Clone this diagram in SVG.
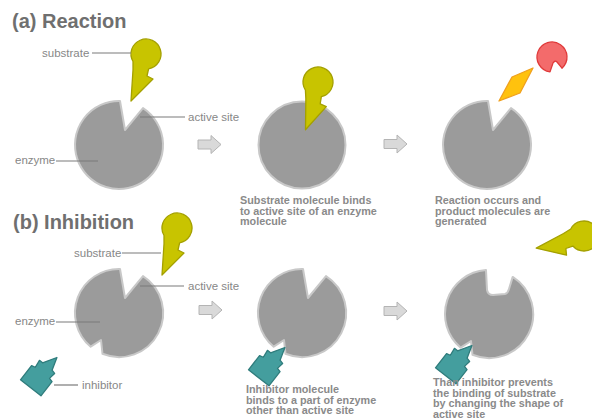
<svg xmlns="http://www.w3.org/2000/svg" xmlns:xlink="http://www.w3.org/1999/xlink" width="592" height="419" viewBox="0 0 592 419">
  <style>
    .title { font-family: "Liberation Sans", Arial, sans-serif; font-weight: bold; font-size: 20px; fill: #6f6f6f; }
    .label { font-family: "Liberation Sans", Arial, sans-serif; font-size: 11.5px; fill: #878787; }
    .caption { font-family: "Liberation Sans", Arial, sans-serif; font-weight: bold; font-size: 10.8px; fill: #8a8a8a; }
    .enzyme { fill: #9b9b9b; stroke: #c8c8c8; stroke-width: 2; stroke-linejoin: round; }
    .substrate { fill: #c8c400; stroke: #a4a000; stroke-width: 1.3; stroke-linejoin: round; }
    .inhibitor { fill: #449e9e; stroke: #2f7c7c; stroke-width: 1.3; stroke-linejoin: round; }
    .leader { stroke: #7a7a7a; stroke-width: 1.2; fill: none; }
    .step { fill: #d9d9d9; stroke: #b4b4b4; stroke-width: 1; }
  </style>
  <defs>
    <!-- enzyme with V-shaped active site -->
    <path id="enzV" d="M6,-15 L1,-44 A44,44 0 1 0 24,-36.9 Z"/>
    <!-- enzyme with active site plus allosteric notch -->
    <path id="enzVA" d="M6,-15 L1,-44 A44,44 0 0 0 -28.3,33.7 L-18,27 L-16.5,40.8 A44,44 0 0 0 24,-36.9 Z"/>
    <!-- enzyme whose active site has changed shape -->
    <path id="enzU" d="M-3,-43.9 L-2,-24 Q-1,-19 4,-19 L16,-20 Q19,-21 20,-25 L23.7,-37.1 A44,44 0 0 1 -16.5,40.8 L-18,27 L-28.3,33.7 A44,44 0 0 1 -3,-43.9 Z"/>
    <!-- substrate: round head with a stepped stem -->
    <path id="sub" d="M-13,7.5 A15,15 0 1 1 2.6,14.8 L1,22 L7,25 L-15,47 L-13,16 Z"/>
    <!-- inhibitor: square body with stepped point -->
    <path id="inh" d="M-13,18 L13,18 L13,0 L9,-1 L10,-8 L6,-9 L2,-22 L-6,-9 L-10,-9 L-9,-1 L-13,0 Z"/>
    <!-- step arrow -->
    <path id="stepArrow" d="M0,-4.5 L13,-4.5 L13,-9 L23,0 L13,9 L13,4.5 L0,4.5 Z"/>
  </defs>

  <rect width="592" height="419" fill="#ffffff"/>

  <text class="title" x="12" y="28">(a) Reaction</text>
  <text class="title" x="13" y="229">(b) Inhibition</text>

  <!-- (a) reaction -->
  <g id="enzyme-a1"><use xlink:href="#enzV" class="enzyme" transform="translate(119,145)"/></g>
  <g id="substrate-a1"><use xlink:href="#sub" class="substrate" transform="translate(146,54)"/></g>

  <g id="enzyme-a2"><circle class="enzyme" cx="302" cy="145" r="43.5"/></g>
  <g id="substrate-a2"><use xlink:href="#sub" class="substrate" transform="translate(318,82) rotate(-3)"/></g>

  <g id="enzyme-a3"><use xlink:href="#enzV" class="enzyme" transform="translate(487,145)"/></g>
  <g id="product-diamond"><path d="M499,101 L512,77 L533,68 L520,93 Z" fill="#ffc20e" stroke="#f0a01e" stroke-width="1.3" stroke-linejoin="round"/></g>
  <g id="product-red"><path d="M550,71.9 A15,15 0 1 1 562,68.2 L557,62 Q555,60 553,63 Z" fill="#f36b6b" stroke="#e03a3a" stroke-width="1.3" stroke-linejoin="round"/></g>

  <!-- (b) inhibition -->
  <g id="enzyme-b1"><use xlink:href="#enzVA" class="enzyme" transform="translate(119,313)"/></g>
  <g id="substrate-b1"><use xlink:href="#sub" class="substrate" transform="translate(177,228)"/></g>
  <g id="inhibitor-b1"><use xlink:href="#inh" class="inhibitor" transform="translate(41.8,373.6) rotate(38)"/></g>

  <g id="enzyme-b2"><use xlink:href="#enzVA" class="enzyme" transform="translate(302,313)"/></g>
  <g id="inhibitor-b2"><use xlink:href="#inh" class="inhibitor" transform="translate(269.8,363.6) rotate(38)"/></g>

  <g id="enzyme-b3"><use xlink:href="#enzU" class="enzyme" transform="translate(489,314)"/></g>
  <g id="inhibitor-b3"><use xlink:href="#inh" class="inhibitor" transform="translate(456.8,361.6) rotate(38)"/></g>
  <g id="substrate-b3"><use xlink:href="#sub" class="substrate" transform="translate(584,236) rotate(58)"/></g>

  <!-- leader lines and step arrows -->
  <g id="connectors">
    <line class="leader" x1="92" y1="53" x2="131" y2="53"/>
    <line class="leader" x1="140" y1="117" x2="185" y2="117"/>
    <line class="leader" x1="56" y1="161" x2="98" y2="161"/>
    <line class="leader" x1="122" y1="253" x2="161" y2="253"/>
    <line class="leader" x1="140" y1="286" x2="184" y2="286"/>
    <line class="leader" x1="56" y1="322" x2="100" y2="322"/>
    <line class="leader" x1="54" y1="385" x2="78" y2="385"/>
    <use xlink:href="#stepArrow" class="step" transform="translate(198,144.5)"/>
    <use xlink:href="#stepArrow" class="step" transform="translate(384,144)"/>
    <use xlink:href="#stepArrow" class="step" transform="translate(199,310)"/>
    <use xlink:href="#stepArrow" class="step" transform="translate(384,311)"/>
  </g>

  <!-- labels -->
  <text class="label" x="42" y="57">substrate</text>
  <text class="label" x="188" y="121">active site</text>
  <text class="label" x="15" y="164">enzyme</text>
  <text class="label" x="74" y="257">substrate</text>
  <text class="label" x="188" y="290">active site</text>
  <text class="label" x="15" y="325">enzyme</text>
  <text class="label" x="82" y="389">inhibitor</text>

  <!-- captions -->
  <text class="caption" x="240" y="204">Substrate molecule binds<tspan x="240" dy="10.6">to active site of an enzyme</tspan><tspan x="240" dy="10.6">molecule</tspan></text>
  <text class="caption" x="435" y="204">Reaction occurs and<tspan x="435" dy="10.6">product molecules are</tspan><tspan x="435" dy="10.6">generated</tspan></text>
  <text class="caption" x="246" y="393">Inhibitor molecule<tspan x="246" dy="10.6">binds to a part of enzyme</tspan><tspan x="246" dy="10.6">other than active site</tspan></text>
  <text class="caption" x="433" y="386">Than inhibitor prevents<tspan x="433" dy="10.6">the binding of substrate</tspan><tspan x="433" dy="10.6">by changing the shape of</tspan><tspan x="433" dy="10.6">active site</tspan></text>
</svg>
